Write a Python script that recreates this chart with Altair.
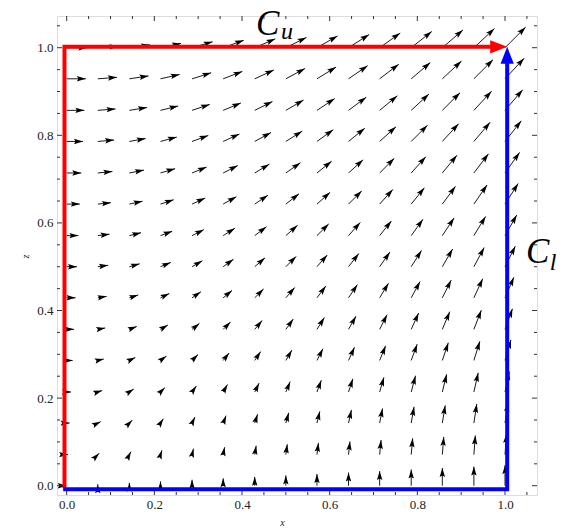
import altair as alt
import pandas as pd
import numpy as np

# ---- data ----
grid_x = [0.0, 0.071, 0.143, 0.214, 0.286, 0.357, 0.429, 0.5,
          0.571, 0.643, 0.714, 0.786, 0.857, 0.929, 1.0]
grid_z = [0.0, 0.071, 0.143, 0.214, 0.286, 0.357, 0.429, 0.5,
          0.571, 0.643, 0.714, 0.786, 0.857, 0.929, 1.0]
# horizontal component of the arrows, read row by row (same along a row)
u_by_row = [0.0, 0.07, 0.14, 0.21, 0.29, 0.36, 0.43, 0.5,
            0.57, 0.64, 0.71, 0.79, 0.86, 0.93, 1.0]
# vertical component of the arrows, read column by column (same down a column)
v_by_col = [0.0, 0.07, 0.14, 0.21, 0.29, 0.36, 0.43, 0.5,
            0.57, 0.64, 0.71, 0.79, 0.86, 0.93, 1.0]

# the two paths C_u (red) and C_l (blue)
cu_x = [-0.005, -0.005, 0.975]
cu_z = [-0.006, 1.002, 1.002]
cl_x = [-0.008, 1.005, 1.005]
cl_z = [-0.008, -0.008, 0.97]
path_end = (1.005, 1.002)

major_ticks = [0.0, 0.2, 0.4, 0.6, 0.8, 1.0]
minor_ticks = [0.05, 0.1, 0.15, 0.25, 0.3, 0.35, 0.45, 0.5, 0.55,
               0.65, 0.7, 0.75, 0.85, 0.9, 0.95, 1.05]

# ---- build tables ----
K = 0.047  # arrow length per unit of field magnitude (data units)
rows = []
for i, gx in enumerate(grid_x):
    for j, gz in enumerate(grid_z):
        u = u_by_row[j]
        v = v_by_col[i]
        theta = np.degrees(np.arctan2(v, u))
        rows.append({"x": gx, "z": gz, "x2": gx + K * u, "z2": gz + K * v,
                     "ang": 90.0 - theta})
field = pd.DataFrame(rows)
cu = pd.DataFrame({"x": cu_x, "z": cu_z, "i": range(len(cu_x))})
cl = pd.DataFrame({"x": cl_x, "z": cl_z, "i": range(len(cl_x))})
majors = pd.DataFrame({"t": major_ticks})
minors = pd.DataFrame({"t": minor_ticks})

W, H = 480, 479
FONT = "Liberation Serif, Times New Roman, Times, serif"
FRAME = "#333333"
xs = alt.Scale(domain=[-0.0221, 1.073], nice=False, zero=False)
zs = alt.Scale(domain=[-0.0212, 1.0724], nice=False, zero=False)

xaxis = alt.Axis(values=major_ticks, format=".1f", ticks=False, domain=False,
                 grid=False, labelFont=FONT, labelFontSize=13, labelColor="#222",
                 labelPadding=3, labelFlush=False, title="x", titleFont=FONT,
                 titleFontStyle="italic", titleFontWeight="normal",
                 titleFontSize=10, titleColor="#222", titleX=225, titleY=27,
                 titleBaseline="middle", titleAlign="center")
zaxis = alt.Axis(values=major_ticks, format=".1f", ticks=False, domain=False,
                 grid=False, labelFont=FONT, labelFontSize=13, labelColor="#222",
                 labelPadding=4, labelFlush=False, title="z", titleFont=FONT,
                 titleFontStyle="italic", titleFontWeight="normal",
                 titleFontSize=10, titleColor="#222", titleX=-32, titleY=240,
                 titleBaseline="middle", titleAlign="center", titleAngle=270)


def X(field_name):
    return alt.X(field_name, scale=xs, axis=xaxis)


def Y(field_name):
    return alt.Y(field_name, scale=zs, axis=zaxis)


shafts = alt.Chart(field).mark_rule(color="black", strokeWidth=0.9).encode(
    x=X("x:Q"), x2="x2:Q", y=Y("z:Q"), y2="z2:Q",
)
HEAD = "M0,0L0.6,2L0,1.65L-0.6,2Z"
heads = alt.Chart(field).mark_point(shape=HEAD, filled=True, color="black",
                                    size=81, opacity=1, strokeWidth=0).encode(
    x=X("x2:Q"), y=Y("z2:Q"),
    angle=alt.Angle("ang:Q", scale=None),
)


def path_layer(df, color):
    return alt.Chart(df).mark_line(color=color, strokeWidth=4).encode(
        x=X("x:Q"), y=Y("z:Q"), order="i:Q",
    )


BIG_HEAD = "M0,0L0.78,2L-0.78,2Z"


def head_layer(color, angle):
    return alt.Chart(pd.DataFrame({"x": [path_end[0]], "z": [path_end[1]]})).mark_point(
        shape=BIG_HEAD, filled=True, color=color, size=289, opacity=1,
        strokeWidth=0, angle=angle).encode(x=X("x:Q"), y=Y("z:Q"))


def tick_layers(df, length):
    base = alt.Chart(df).mark_rule(color=FRAME, strokeWidth=1)
    bottom = base.encode(x=X("t:Q"), y=alt.value(H), y2=alt.value(H - length))
    top = base.encode(x=X("t:Q"), y=alt.value(0), y2=alt.value(length))
    left = base.encode(y=Y("t:Q"), x=alt.value(0), x2=alt.value(length))
    right = base.encode(y=Y("t:Q"), x=alt.value(W), x2=alt.value(W - length))
    return [bottom, top, left, right]


def label(text, x, z, size):
    return alt.Chart(pd.DataFrame({"v": [0]})).mark_text(
        text=text, font=FONT, fontStyle="italic", fontSize=size,
        align="left", baseline="alphabetic", color="black").encode(
        x=alt.X(datum=x, scale=xs, axis=xaxis),
        y=alt.Y(datum=z, scale=zs, axis=zaxis),
    )


layers = [shafts, heads]
layers += tick_layers(majors, 5) + tick_layers(minors, 3)
layers += [path_layer(cu, "#ff0000"), head_layer("#ff0000", 90),
           path_layer(cl, "#0000ff"), head_layer("#0000ff", 0)]
layers += [label("C", 0.432, 1.03, 35), label("u", 0.489, 1.019, 24),
           label("C", 1.048, 0.508, 35), label("l", 1.102, 0.492, 24)]

chart = alt.layer(*layers).properties(
    width=W, height=H,
    autosize=alt.AutoSizeParams(type="none"),
    padding={"left": 49, "top": 8, "right": 19, "bottom": 33},
).configure_view(stroke=FRAME, strokeWidth=1).configure(background="white")

chart.save("out.html", embed_options={"renderer": "svg", "actions": False})
